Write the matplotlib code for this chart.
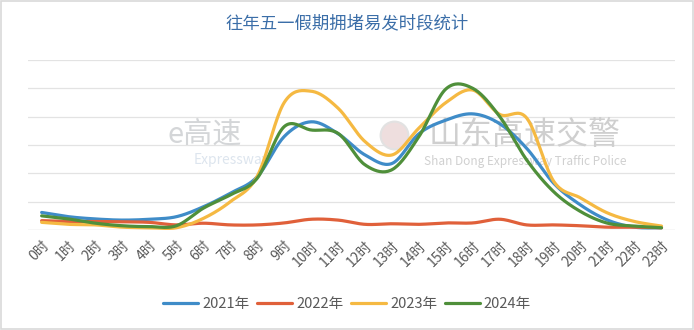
import numpy as np
import matplotlib
matplotlib.use("Agg")
import matplotlib.pyplot as plt
from matplotlib.patches import Rectangle

plt.rcParams['font.family'] = ['Noto Sans CJK SC', 'DejaVu Sans']

hours = [f"{h}时" for h in range(24)]
years = ["2021年", "2022年", "2023年", "2024年"]

v2021 = [0.62, 0.47, 0.39, 0.35, 0.38, 0.47, 0.82, 1.30, 1.88, 3.30, 3.82, 3.40,
         2.65, 2.35, 3.40, 3.88, 4.10, 3.75, 2.88, 1.65, 0.88, 0.35, 0.10, 0.08]
v2022 = [0.33, 0.30, 0.30, 0.29, 0.27, 0.18, 0.24, 0.18, 0.18, 0.25, 0.38, 0.35,
         0.20, 0.22, 0.20, 0.25, 0.25, 0.38, 0.18, 0.18, 0.15, 0.10, 0.10, 0.08]
v2023 = [0.27, 0.20, 0.18, 0.10, 0.08, 0.08, 0.41, 1.00, 1.90, 4.50, 4.90, 4.30,
         3.12, 2.65, 3.60, 4.50, 4.94, 4.08, 3.95, 1.72, 1.13, 0.60, 0.30, 0.14]
v2024 = [0.50, 0.39, 0.24, 0.15, 0.12, 0.15, 0.77, 1.24, 1.83, 3.65, 3.53, 3.41,
         2.30, 2.13, 3.30, 4.98, 5.00, 4.00, 2.47, 1.35, 0.65, 0.24, 0.14, 0.08]

colors = ["#3f8cc8", "#e0603a", "#f5b942", "#4f8f3a"]


def smooth(y, n=20):
    # Catmull-Rom style smoothing like spreadsheet "smoothed line"
    y = np.asarray(y, dtype=float)
    x = np.arange(len(y), dtype=float)
    px = np.concatenate([[x[0]], x, [x[-1]]])
    py = np.concatenate([[y[0]], y, [y[-1]]])
    xs, ys = [], []
    t = np.linspace(0, 1, n, endpoint=False)
    for i in range(1, len(px) - 2):
        p0, p1, p2, p3 = py[i - 1], py[i], py[i + 1], py[i + 2]
        q0, q1, q2, q3 = px[i - 1], px[i], px[i + 1], px[i + 2]
        c1y, c2y = p1 + (p2 - p0) / 6, p2 - (p3 - p1) / 6
        c1x, c2x = q1 + (q2 - q0) / 6, q2 - (q3 - q1) / 6
        b0, b1, b2, b3 = (1 - t) ** 3, 3 * (1 - t) ** 2 * t, 3 * (1 - t) * t ** 2, t ** 3
        xs.append(b0 * q1 + b1 * c1x + b2 * c2x + b3 * q2)
        ys.append(b0 * p1 + b1 * c1y + b2 * c2y + b3 * p2)
    xs.append([x[-1]])
    ys.append([y[-1]])
    return np.concatenate(xs), np.concatenate(ys)


fig = plt.figure(figsize=(6.94, 3.30), dpi=100)
fig.patches.append(Rectangle((0.002, 0.003), 0.996, 0.994, transform=fig.transFigure,
                             fill=False, edgecolor="#d9d9d9", linewidth=1.2))

ax = fig.add_axes([0.0406, 0.303, 0.932, 0.515])
ax.set_xlim(-0.5, 23.5)
ax.set_ylim(0, 6)

for yv in range(1, 7):
    ax.axhline(yv, color="#e3e3e3", linewidth=0.9, zorder=0)
ax.axhline(0, color="#d9d9d9", linewidth=1.0, zorder=1)

# watermarks
ax.text(0.273, 0.56, "e高速", transform=ax.transAxes, fontsize=21, color="#d4d6d8",
        ha="center", va="center", zorder=0.5, style="italic")
ax.text(0.315, 0.41, "Expressway", transform=ax.transAxes, fontsize=10, color="#dde5ee",
        ha="center", va="center", zorder=0.5, style="italic")
ax.text(0.768, 0.56, "山东高速交警", transform=ax.transAxes, fontsize=23, color="#cfcfcf",
        ha="center", va="center", zorder=0.5)
ax.text(0.768, 0.405, "Shan Dong Expressway Traffic Police", transform=ax.transAxes,
        fontsize=8.5, color="#d0d0d0", ha="center", va="center", zorder=0.5)
ax.plot([0.565], [0.56], marker="o", markersize=20, transform=ax.transAxes,
        markerfacecolor="#eedede", markeredgecolor="#e2e2e2", markeredgewidth=1.5,
        zorder=0.5)

for vals, col, lab in zip([v2021, v2022, v2023, v2024], colors, years):
    sx, sy = smooth(vals)
    ax.plot(sx, sy, color=col, linewidth=2.3, label=lab, solid_capstyle="round", zorder=3)

ax.set_yticks([])
ax.set_xticks(range(24))
ax.set_xticklabels(hours, rotation=45, ha="right", rotation_mode="anchor",
                   fontsize=10, color="#595959")
ax.tick_params(axis="x", length=0, pad=6)
for s in ax.spines.values():
    s.set_visible(False)

fig.text(0.5, 0.93, "往年五一假期拥堵易发时段统计", ha="center", va="center",
         fontsize=12.5, color="#3b6ea8")

handles, labels = ax.get_legend_handles_labels()
fig.legend(handles, labels, loc="center", bbox_to_anchor=(0.5, 0.078), ncol=4,
           frameon=False, fontsize=10.5, handlelength=2.4, handletextpad=0.3,
           columnspacing=0.5, labelcolor="#595959")

fig.savefig("out.png", dpi=100)
